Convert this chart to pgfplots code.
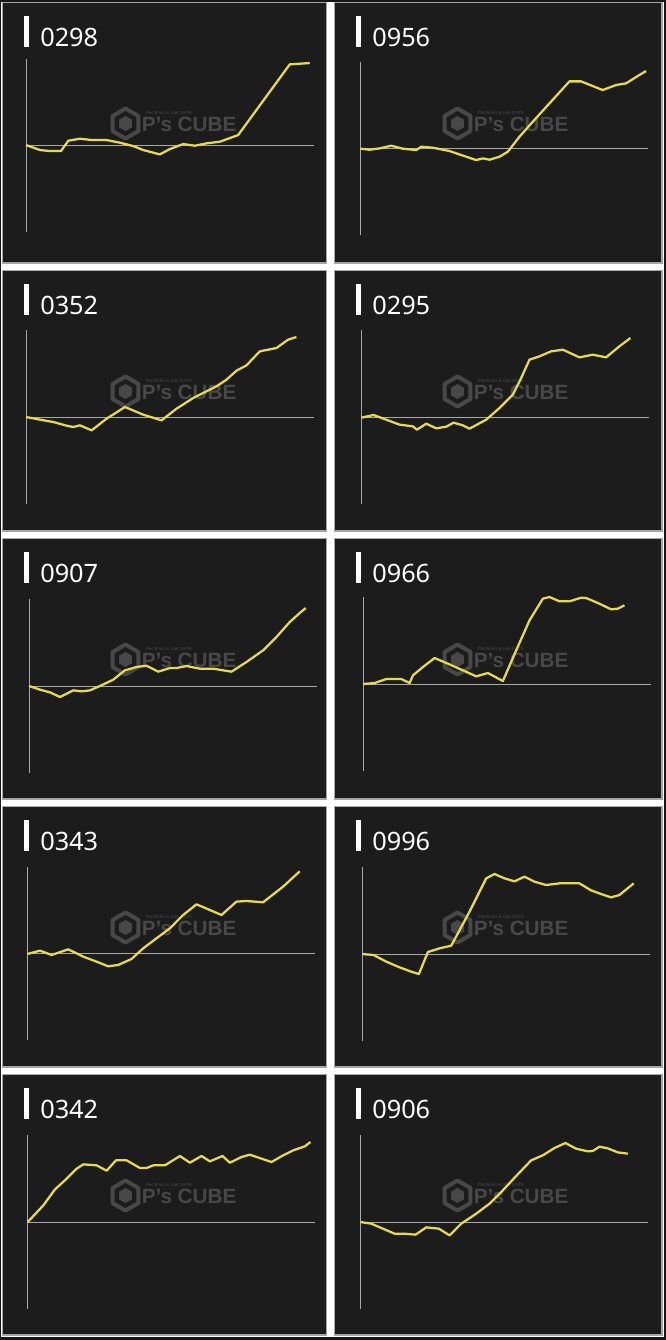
\documentclass[border=0pt]{standalone}
\usepackage{pgfplots}
\pgfplotsset{compat=1.18}
\usepackage{fontspec}
\setmainfont{Noto Sans}
\newfontfamily\wmfont{Liberation Sans}

\definecolor{pagebg}{HTML}{161616}
\definecolor{panelbg}{HTML}{1C1C1C}
\definecolor{frame}{HTML}{A6A6A6}
\definecolor{zerogray}{HTML}{A8A8A8}
\definecolor{lineyellow}{HTML}{E8DA4E}
\definecolor{wmgray}{HTML}{484848}

% one small chart: x = position along the session, y = balance (0 = start)
\pgfplotsset{mini/.style={
    width=215.8pt, height=130pt, scale only axis,
    xmin=0, xmax=864, ymin=-260, ymax=260,
    axis lines=middle,
    axis line style={draw=zerogray, line width=0.75pt, -},
    ticks=none, clip=false, anchor=origin,
    every axis plot post/.append style={draw=lineyellow, line width=1.7pt,
      line join=round, mark=none},
  },
}
% positions below are in pixels of the 666x1340 picture
\newcommand{\pos}[2]{at={(#1*0.75pt,-#2*0.75pt)}}

\begin{document}
\begin{tikzpicture}
  \begin{scope}[x=0.75pt, y=0.75pt]
  % page, white gaps, panels
  \fill[pagebg] (0,0) rectangle (666,-1340);
  \fill[white] (1.5,-1.5) rectangle (664,-1337);
  \foreach \ry in {2.5,270.5,538.5,806.5,1074.5} {
    \draw[frame, line width=1.1pt, fill=panelbg] (2.5,-\ry) rectangle (326.5,-\ry-260.5);
    \draw[frame, line width=1.1pt, fill=panelbg] (334.5,-\ry) rectangle (662,-\ry-260.5);
  }
  % titles and watermark
  \foreach \cx/\ry/\lab in {2.5/2.5/0298, 334.5/2.5/0956, 2.5/270.5/0352, 334.5/270.5/0295,
      2.5/538.5/0907, 334.5/538.5/0966, 2.5/806.5/0343, 334.5/806.5/0996,
      2.5/1074.5/0342, 334.5/1074.5/0906} {
    \fill[white] (\cx+21.5,-\ry-13.5) rectangle (\cx+26,-\ry-44.5);
    \node[anchor=base west, inner sep=0pt, text=white,
      font=\fontsize{19pt}{20pt}\selectfont] at (\cx+37.5,-\ry-44) {\lab};
    \begin{scope}[shift={(\cx+123,-\ry-121)}]
      \draw[wmgray, line width=3pt, line join=round]
        (90:15) -- (150:15) -- (210:15) -- (270:15) -- (330:15) -- (30:15) -- cycle;
      \fill[wmgray] (90:7.5) -- (150:7.5) -- (210:7.5) -- (270:7.5) -- (330:7.5) -- (30:7.5) -- cycle;
    \end{scope}
    \node[anchor=west, inner sep=0pt, text=wmgray,
      font=\wmfont\bfseries\fontsize{15.5pt}{16pt}\selectfont] at (\cx+139,-\ry-122) {P’s CUBE};
    \node[anchor=west, inner sep=0pt, text=wmgray,
      font=\wmfont\fontsize{3.5pt}{4pt}\selectfont] at (\cx+143,-\ry-110) {Pachinko \& Slot DATA};
  }
  \end{scope}

  % 0298
  \begin{axis}[mini, \pos{26}{145.7}]
    \addplot coordinates {(0,2) (42,-13) (72,-16) (105,-16) (127,15) (162,21) (197,17)
      (242,17) (282,9) (322,-1) (352,-13) (402,-26) (432,-10) (472,5) (507,0) (542,7)
      (582,12) (637,32) (792,244) (852,248)};
  \end{axis}
  % 0956
  \begin{axis}[mini, \pos{360.3}{148.7}]
    \addplot coordinates {(0,0) (28,-3) (58,1) (93,9) (128,0) (168,-4) (183,6) (218,3)
      (268,-7) (318,-24) (348,-34) (368,-29) (388,-33) (418,-24) (443,-9) (478,36)
      (518,81) (568,136) (628,202) (663,202) (698,188) (728,176) (768,191) (798,196)
      (833,218) (858,233)};
  \end{axis}
  % 0352
  \begin{axis}[mini, \pos{26}{417}]
    \addplot coordinates {(0,0) (42,-8) (82,-15) (122,-26) (142,-30) (162,-25) (197,-40)
      (242,-5) (297,30) (352,7) (407,-10) (452,25) (502,57) (542,77) (572,92) (602,112)
      (632,139) (662,155) (702,197) (722,201) (752,207) (787,232) (812,240)};
  \end{axis}
  % 0295
  \begin{axis}[mini, \pos{361.3}{417}]
    \addplot coordinates {(0,-2) (37,6) (75,-8) (115,-23) (155,-28) (167,-38) (195,-20)
      (225,-34) (255,-29) (277,-17) (305,-25) (325,-35) (375,-8) (415,27) (455,67)
      (480,117) (505,172) (535,182) (570,197) (605,202) (655,179) (695,187) (735,179)
      (775,212) (808,237)};
  \end{axis}
  % 0907
  \begin{axis}[mini, \pos{29}{686}]
    \addplot coordinates {(0,0) (33,-11) (63,-19) (93,-33) (133,-13) (158,-16) (183,-13)
      (213,0) (253,19) (288,47) (323,57) (353,61) (388,43) (423,54) (443,54) (473,60)
      (513,52) (553,52) (608,43) (653,72) (703,107) (743,147) (783,192) (813,219)
      (831,234)};
  \end{axis}
  % 0966
  \begin{axis}[mini, \pos{363}{684}]
    \addplot coordinates {(0,0) (35,3) (70,15) (115,15) (140,3) (150,26) (180,51)
      (215,78) (255,61) (300,41) (340,23) (375,33) (420,9) (460,101) (500,191) (540,256)
      (560,261) (590,248) (620,248) (655,259) (670,258) (710,241) (745,224) (765,226)
      (785,236)};
  \end{axis}
  % 0343
  \begin{axis}[mini, \pos{27.3}{953.3}]
    \addplot coordinates {(0,-2) (38,8) (73,-5) (123,12) (168,-10) (208,-25) (243,-39)
      (273,-35) (313,-17) (348,15) (388,45) (428,75) (468,115) (508,147) (548,130)
      (583,115) (628,155) (658,157) (708,153) (768,200) (818,246)};
  \end{axis}
  % 0996
  \begin{axis}[mini, \pos{362.3}{954}]
    \addplot coordinates {(0,0) (34,-3) (72,-23) (112,-40) (147,-53) (170,-60) (197,6)
      (232,17) (267,25) (322,127) (372,227) (397,240) (427,227) (457,218) (487,232)
      (517,217) (552,207) (592,212) (652,212) (687,191) (717,180) (747,170) (772,177)
      (815,212)};
  \end{axis}
  % 0342
  \begin{axis}[mini, \pos{27.7}{1222}]
    \addplot coordinates {(0,0) (47,50) (82,98) (117,130) (147,160) (167,173) (207,170)
      (237,154) (265,185) (297,185) (337,162) (357,162) (377,170) (412,170) (457,198)
      (487,178) (522,198) (547,182) (585,198) (607,178) (642,195) (667,202) (732,180)
      (767,200) (797,215) (832,227) (849,240)};
  \end{axis}
  % 0906
  \begin{axis}[mini, \pos{360.3}{1222}]
    \addplot coordinates {(0,0) (33,-5) (68,-20) (103,-35) (133,-35) (166,-38) (198,-16)
      (236,-20) (268,-40) (303,-5) (348,25) (388,55) (428,95) (468,138) (513,185)
      (548,200) (583,222) (616,237) (648,220) (683,212) (698,213) (718,226) (743,221)
      (773,209) (803,205)};
  \end{axis}
\end{tikzpicture}
\end{document}
